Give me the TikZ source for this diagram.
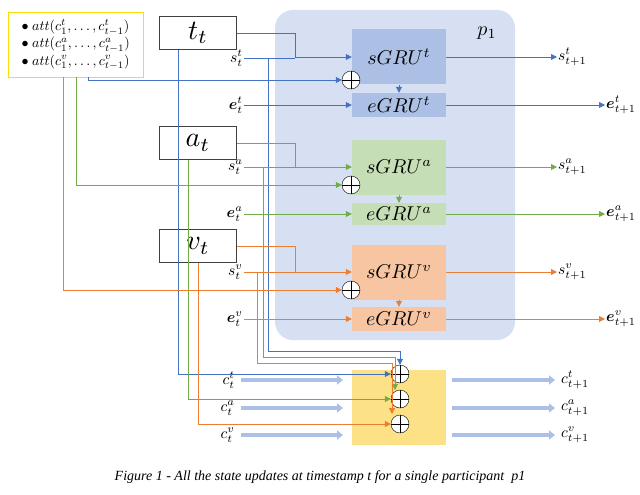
\documentclass[tikz,border=0pt]{standalone}
\usepackage{graphicx}
\usepackage{amsmath,bm}
\usepackage{fontspec}
\setmainfont{Liberation Serif}
\usetikzlibrary{arrows.meta}
\definecolor{cb}{HTML}{4472C4}\definecolor{cg}{HTML}{70AD47}\definecolor{co}{HTML}{ED7D31}
\definecolor{pan}{HTML}{D6E0F2}
\newcommand\SI[1]{\scalebox{2.8}{$#1$}}
\newcommand\SG[1]{\scalebox{2.0}{$#1$}}
\newcommand\SL[1]{\scalebox{1.55}{$#1$}}
\newcommand\SA[1]{\scalebox{1.4}{$#1$}}
\begin{document}
\begin{tikzpicture}[x=1pt,y=-1pt,
 inp/.style={draw=black!75,fill=white,minimum width=77pt,minimum height=33pt,inner sep=0pt},
 gru/.style={minimum width=94pt,inner sep=0pt},
 op/.style={circle,draw,fill=white,inner sep=0pt,minimum size=18pt,path picture={\draw (path picture bounding box.north)--(path picture bounding box.south) (path picture bounding box.west)--(path picture bounding box.east);}},
 l/.style={line width=0.8pt},
 a/.style={l,-{Triangle[length=6pt,width=6pt]}},
 fat/.style={line width=4pt,draw=cb!45,-{Triangle[length=6pt,width=9pt]}},
 lab/.style={inner sep=1pt}]
\useasboundingbox (0,0) rectangle (640,495);
\fill[pan,rounded corners=18pt] (275,10) rectangle (515,340);
\node (p1) at (487,33) {\SG{p_1}};
\node[draw=yellow!80!orange,fill=white,align=left,inner sep=2pt,minimum width=135pt,minimum height=65pt,anchor=north west] (att) at (8,12) {\SA{\bullet\ att(c^t_1,\dots,c^t_{t-1})}\\[1pt]\SA{\bullet\ att(c^a_1,\dots,c^a_{t-1})}\\[1pt]\SA{\bullet\ att(c^v_1,\dots,c^v_{t-1})}};
\node[inp] (tt) at (198,33) {\SI{t_t}};
\node[inp] (at) at (198,143) {\SI{a_t}};
\node[inp] (vt) at (198,246) {\SI{v_t}};
\node[gru,fill=cb!45,minimum height=55pt] (sgt) at (399,57) {\SG{sGRU^t}};
\node[gru,fill=cb!45,minimum height=24pt] (egt) at (399,105) {\SG{eGRU^t}};
\node[gru,fill=cg!40,minimum height=55pt] (sga) at (399,167) {\SG{sGRU^a}};
\node[gru,fill=cg!40,minimum height=22pt] (ega) at (399,214) {\SG{eGRU^a}};
\node[gru,fill=co!45,minimum height=55pt] (sgv) at (399,272) {\SG{sGRU^v}};
\node[gru,fill=co!45,minimum height=24pt] (egv) at (399,319) {\SG{eGRU^v}};
\fill[yellow!55!orange!45] (352,370) rectangle (446,445);
\node[op] (ot) at (351,80) {};\node[op] (oa) at (351,185) {};\node[op] (ov) at (351,290) {};
\node[op] (c1) at (400,374) {};\node[op] (c2) at (400,399) {};\node[op] (c3) at (400,424) {};
\node[lab,anchor=east] (st) at (244,58) {\SL{s^t_t}};\node[lab,anchor=east] (sa) at (244,167) {\SL{s^a_t}};\node[lab,anchor=east] (sv) at (244,272) {\SL{s^v_t}};
\node[lab,anchor=east] (et) at (244,105) {\SL{\bm{e}^t_t}};\node[lab,anchor=east] (ea) at (244,214) {\SL{\bm{e}^a_t}};\node[lab,anchor=east] (ev) at (244,319) {\SL{\bm{e}^v_t}};
\node[lab,anchor=west] (st1) at (557,57) {\SL{s^t_{t+1}}};\node[lab,anchor=west] (sa1) at (557,167) {\SL{s^a_{t+1}}};\node[lab,anchor=west] (sv1) at (557,272) {\SL{s^v_{t+1}}};
\node[lab,anchor=west] (et1) at (605,105) {\SL{\bm{e}^t_{t+1}}};\node[lab,anchor=west] (ea1) at (605,214) {\SL{\bm{e}^a_{t+1}}};\node[lab,anchor=west] (ev1) at (605,319) {\SL{\bm{e}^v_{t+1}}};
\node[lab,anchor=east] (ct) at (236,380) {\SL{c^t_t}};\node[lab,anchor=east] (ca) at (236,408) {\SL{c^a_t}};\node[lab,anchor=east] (cv) at (236,435) {\SL{c^v_t}};
\node[lab,anchor=west] (ct1) at (560,380) {\SL{c^t_{t+1}}};\node[lab,anchor=west] (ca1) at (560,408) {\SL{c^a_{t+1}}};\node[lab,anchor=west] (cv1) at (560,435) {\SL{c^v_{t+1}}};
\foreach \y in {380,408,435}{\draw[fat] (241,\y)--(343,\y);\draw[fat] (452,\y)--(555,\y);}
% blue
\begin{scope}[draw=cb]
\draw[a] (tt.east)-|(295,57)--(sgt.west);
\draw[l] (st.east)--(295,58);
\draw[a] ([xshift=80pt]att.south west)|-(ot.west);
\draw[a] (268,58)|-(400,351)--(c1.north);
\draw[a] ([xshift=-20pt]tt.south)|-(c1.west);
\draw[a] (sgt.east)--(st1.west);\draw[a] (et.east)--(egt.west);\draw[a] (egt.east)--(et1.west);
\draw[a] (sgt.south)--(egt.north);
\end{scope}
\begin{scope}[draw=cg]
\draw[a] (at.east)-|(295,167)--(sga.west);
\draw[l] (sa.east)--(295,167);
\draw[a] ([xshift=68pt]att.south west)|-(oa.west);
\draw[a] (263,167)|-(395,357)--(395,390);
\draw[a] ([xshift=-10pt]at.south)|-(c2.west);
\draw[a] (sga.east)--(sa1.west);\draw[a] (ea.east)--(ega.west);\draw[a] (ega.east)--(ea1.west);
\draw[a] (sga.south)--(ega.north);
\end{scope}
\begin{scope}[draw=co]
\draw[a] (vt.east)-|(295,272)--(sgv.west);
\draw[l] (sv.east)--(295,272);
\draw[a] ([xshift=55pt]att.south west)|-(ov.west);
\draw[a] (257,272)|-(392,363)--(392,414);
\draw[a] (vt.south)|-(c3.west);
\draw[a] (sgv.east)--(sv1.west);\draw[a] (ev.east)--(egv.west);\draw[a] (egv.east)--(ev1.west);
\draw[a] (sgv.south)--(egv.north);
\end{scope}
\node[font=\itshape\fontsize{14}{16}\selectfont] (cap) at (320,477) {Figure 1 - All the state updates at timestamp t for a single participant\ \ p1};
\end{tikzpicture}
\end{document}
